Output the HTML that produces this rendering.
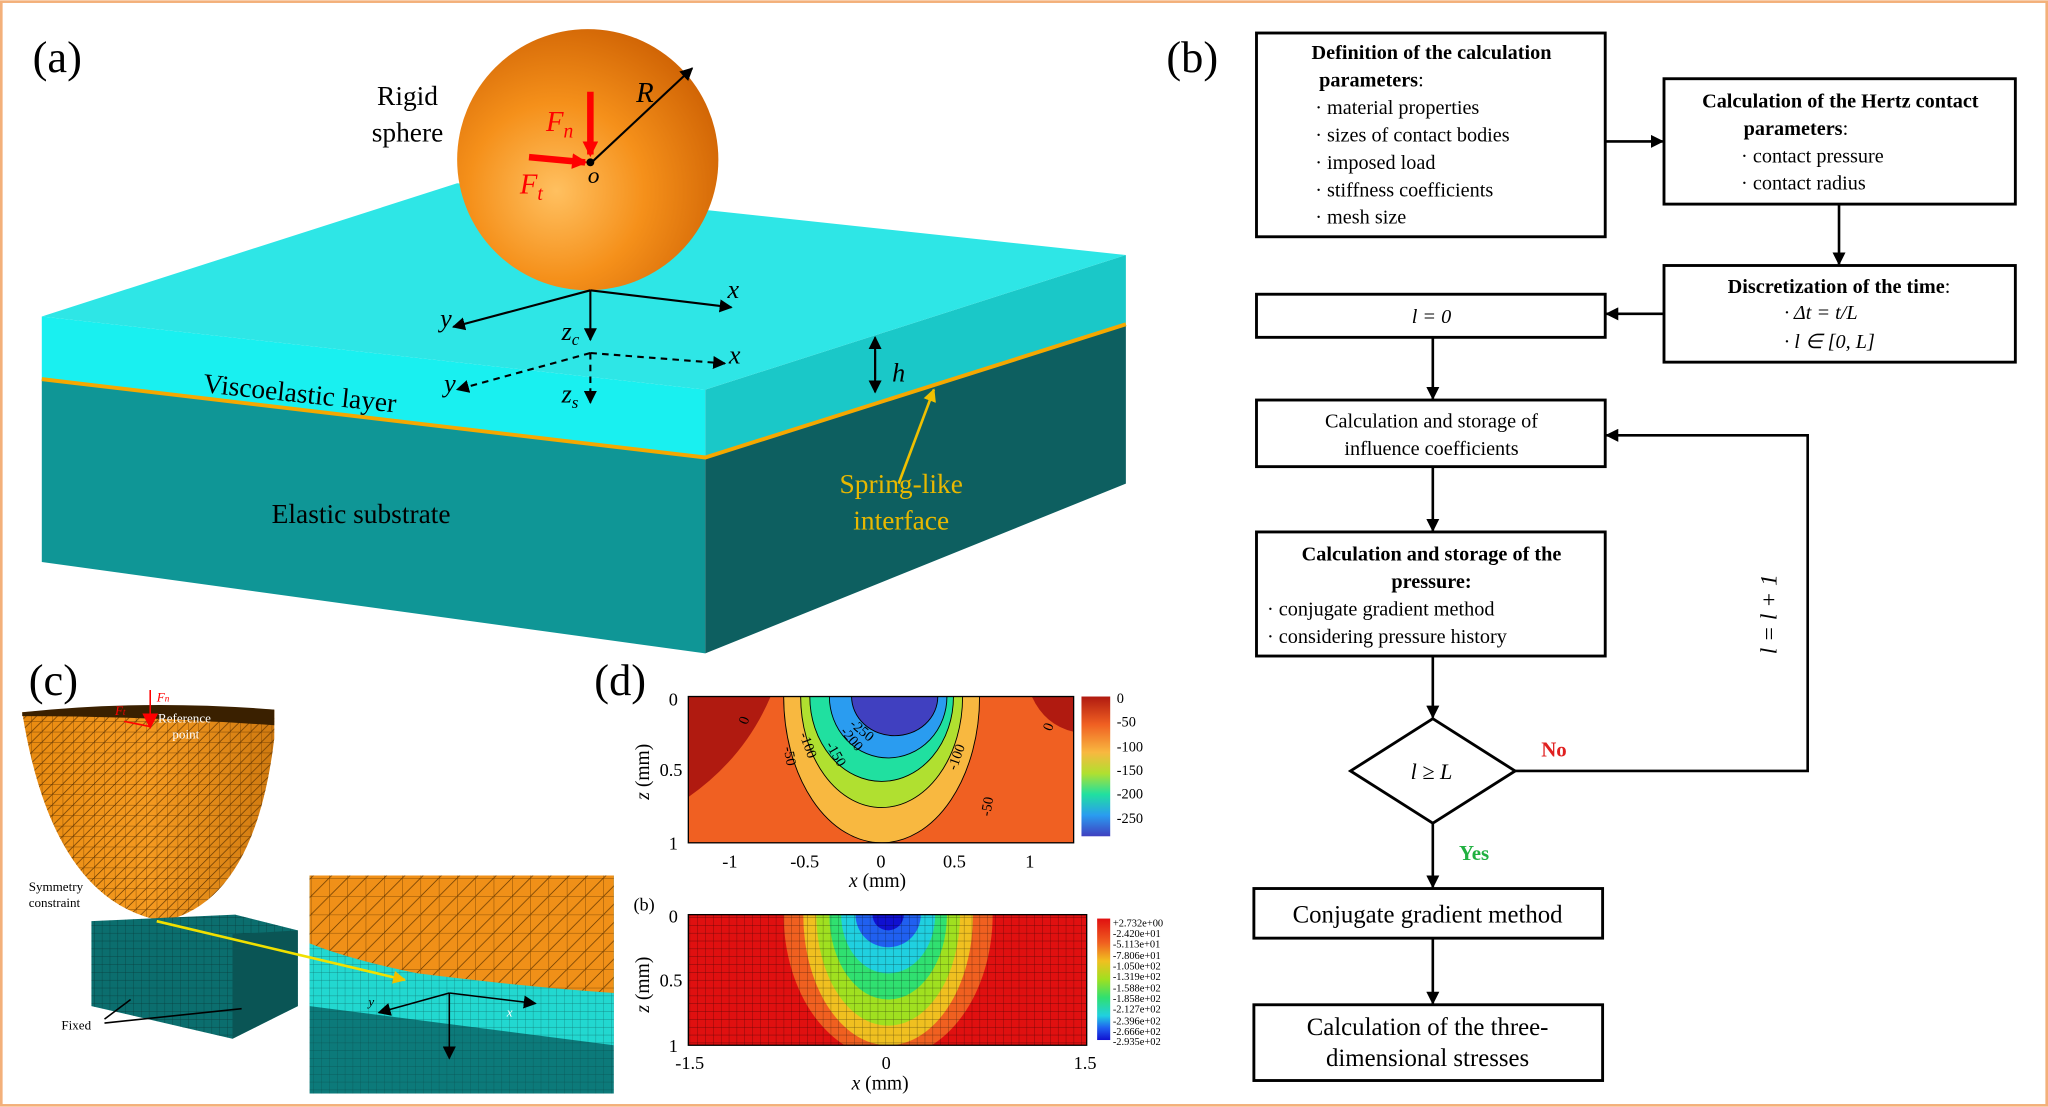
<!DOCTYPE html>
<html><head><meta charset="utf-8"><style>
html,body{margin:0;padding:0;background:#fff}
svg{display:block}
text{font-family:"Liberation Serif",serif}
</style></head><body>
<svg width="2048" height="1107" viewBox="0 0 1568 847" xmlns="http://www.w3.org/2000/svg">
<defs>
<radialGradient id="sph" cx="0.38" cy="0.62" r="0.75">
<stop offset="0" stop-color="#ffc060"/><stop offset="0.45" stop-color="#f5901a"/><stop offset="1" stop-color="#c85a00"/>
</radialGradient>
<linearGradient id="hemi" x1="0" y1="0" x2="1" y2="0">
<stop offset="0" stop-color="#e88a10"/><stop offset="0.5" stop-color="#f59a20"/><stop offset="1" stop-color="#d07a10"/>
</linearGradient>
<pattern id="mesh" width="8" height="8" patternUnits="userSpaceOnUse">
<path d="M0 0H8M0 0V8M0 8L8 0" stroke="#5a3000" stroke-width="0.5" fill="none"/>
</pattern>
<pattern id="mesh2" width="14" height="14" patternUnits="userSpaceOnUse">
<path d="M0 0H14M0 0V14M0 14L14 0" stroke="#6a3a00" stroke-width="0.6" fill="none"/>
</pattern>
<pattern id="tmesh" width="6" height="6" patternUnits="userSpaceOnUse">
<path d="M0 0H6M0 0V6" stroke="#083a3a" stroke-width="0.5" fill="none"/>
</pattern>
<pattern id="grid" width="6" height="6" patternUnits="userSpaceOnUse">
<path d="M0 0H6M0 0V6" stroke="#000" stroke-width="0.5" fill="none" opacity="0.6"/>
</pattern>
<marker id="ah" markerWidth="10" markerHeight="10" refX="9" refY="5" orient="auto" markerUnits="userSpaceOnUse">
<path d="M0 0L10 5L0 10z" fill="#000"/></marker>
<marker id="ahr" markerWidth="12" markerHeight="12" refX="10" refY="6" orient="auto" markerUnits="userSpaceOnUse">
<path d="M0 0L12 6L0 12z" fill="#f00"/></marker>
<marker id="ahy" markerWidth="10" markerHeight="10" refX="9" refY="5" orient="auto" markerUnits="userSpaceOnUse">
<path d="M0 0L10 5L0 10z" fill="#f0c000"/></marker>
<clipPath id="c1"><rect x="527" y="533" width="295" height="112"/></clipPath>
<clipPath id="c2"><rect x="527" y="700" width="305" height="100"/></clipPath>
<clipPath id="c3"><rect x="237" y="670" width="233" height="167"/></clipPath>
</defs>
<rect x="1" y="1" width="1566" height="845" fill="#fff" stroke="#f3b07a" stroke-width="2"/>

<!-- (a) -->
<text x="25" y="55" font-size="34">(a)</text>
<polygon points="32,290 540,350 540,500 32,430" fill="#0f9696"/>
<polygon points="540,350 862,248 862,370 540,500" fill="#0d5f60"/>
<polygon points="32,242 540,298 540,350 32,290" fill="#19f0f0"/>
<polygon points="540,298 862,195 862,248 540,350" fill="#1ac8c8"/>
<polygon points="32,242 350,140 862,195 540,298" fill="#2ee6e6"/>
<polyline points="32,290 540,350 862,248" fill="none" stroke="#f5a800" stroke-width="3"/>
<circle cx="450" cy="122" r="100" fill="url(#sph)"/>
<g stroke="#000" stroke-width="1.6" fill="none">
<line x1="452" y1="222" x2="560" y2="235" marker-end="url(#ah)"/>
<line x1="452" y1="222" x2="347" y2="250" marker-end="url(#ah)"/>
<line x1="452" y1="222" x2="452" y2="260" marker-end="url(#ah)"/>
<g stroke-dasharray="5,4">
<line x1="452" y1="270" x2="555" y2="278" marker-end="url(#ah)"/>
<line x1="452" y1="270" x2="350" y2="298" marker-end="url(#ah)"/>
<line x1="452" y1="270" x2="452" y2="308" marker-end="url(#ah)"/>
</g>
<line x1="670" y1="268" x2="670" y2="300" marker-end="url(#ah)"/>
<line x1="670" y1="290" x2="670" y2="258" marker-end="url(#ah)"/>
<line x1="453" y1="124" x2="530" y2="52" marker-end="url(#ah)"/>
</g>
<line x1="688" y1="370" x2="715" y2="298" stroke="#f0c000" stroke-width="2" marker-end="url(#ahy)"/>
<line x1="452" y1="70" x2="452" y2="118" stroke="#f00" stroke-width="5" marker-end="url(#ahr)"/>
<line x1="405" y1="120" x2="448" y2="124" stroke="#f00" stroke-width="5" marker-end="url(#ahr)"/>
<circle cx="452" cy="124" r="3" fill="#000"/>
<g font-style="italic" font-size="22">
<text x="418" y="100" fill="#f00">F<tspan font-size="15" dy="5">n</tspan></text>
<text x="398" y="148" fill="#f00">F<tspan font-size="15" dy="5">t</tspan></text>
<text x="450" y="140" font-size="18">o</text>
<text x="487" y="78">R</text>
<text x="557" y="228" font-size="20">x</text>
<text x="337" y="250" font-size="20">y</text>
<text x="430" y="260" font-size="20">z<tspan font-size="13" dy="4">c</tspan></text>
<text x="558" y="278" font-size="20">x</text>
<text x="340" y="300" font-size="20">y</text>
<text x="430" y="308" font-size="20">z<tspan font-size="13" dy="4">s</tspan></text>
<text x="683" y="292" font-size="20">h</text>
</g>
<text x="312" y="80" font-size="21" text-anchor="middle">Rigid</text>
<text x="312" y="108" font-size="21" text-anchor="middle">sphere</text>
<text x="155" y="300" font-size="21" transform="rotate(6 155 300)">Viscoelastic layer</text>
<text x="208" y="400" font-size="21">Elastic substrate</text>
<text x="690" y="377" font-size="21" fill="#e8b800" text-anchor="middle">Spring-like</text>
<text x="690" y="405" font-size="21" fill="#e8b800" text-anchor="middle">interface</text>

<!-- (b) flowchart -->
<text x="893" y="55" font-size="34">(b)</text>
<g fill="#fff" stroke="#000" stroke-width="2.2">
<rect x="962" y="25" width="267" height="156"/>
<rect x="1274" y="60" width="269" height="96"/>
<rect x="1274" y="203" width="269" height="74"/>
<rect x="962" y="225" width="267" height="33"/>
<rect x="962" y="306" width="267" height="51"/>
<rect x="962" y="407" width="267" height="95"/>
<polygon points="1097,550 1160,590 1097,630 1034,590"/>
<rect x="960" y="680" width="267" height="38"/>
<rect x="960" y="769" width="267" height="58"/>
</g>
<g stroke="#000" stroke-width="2" fill="none">
<line x1="1229" y1="108" x2="1273" y2="108" marker-end="url(#ah)"/>
<line x1="1408" y1="156" x2="1408" y2="202" marker-end="url(#ah)"/>
<line x1="1274" y1="240" x2="1230" y2="240" marker-end="url(#ah)"/>
<line x1="1097" y1="258" x2="1097" y2="305" marker-end="url(#ah)"/>
<line x1="1097" y1="357" x2="1097" y2="406" marker-end="url(#ah)"/>
<line x1="1097" y1="502" x2="1097" y2="549" marker-end="url(#ah)"/>
<line x1="1097" y1="630" x2="1097" y2="679" marker-end="url(#ah)"/>
<line x1="1097" y1="718" x2="1097" y2="768" marker-end="url(#ah)"/>
<polyline points="1160,590 1384,590 1384,333 1230,333" marker-end="url(#ah)"/>
</g>
<g font-size="15.5">
<text x="1096" y="45" text-anchor="middle" font-weight="bold">Definition of the calculation</text>
<text x="1010" y="66" font-weight="bold">parameters<tspan font-weight="normal">:</tspan></text>
<text x="1007" y="87">· material properties</text>
<text x="1007" y="108">· sizes of contact bodies</text>
<text x="1007" y="129">· imposed load</text>
<text x="1007" y="150">· stiffness coefficients</text>
<text x="1007" y="171">· mesh size</text>
<text x="1409" y="82" text-anchor="middle" font-weight="bold">Calculation of the Hertz contact</text>
<text x="1335" y="103" font-weight="bold">parameters<tspan font-weight="normal">:</tspan></text>
<text x="1333" y="124">· contact pressure</text>
<text x="1333" y="145">· contact radius</text>
<text x="1408" y="224" text-anchor="middle" font-weight="bold">Discretization of the  time<tspan font-weight="normal">:</tspan></text>
<text x="1366" y="244" font-style="italic">· Δt = t/L</text>
<text x="1366" y="266" font-style="italic">· l ∈ [0, L]</text>
<text x="1096" y="247" text-anchor="middle" font-style="italic">l = 0</text>
<text x="1096" y="327" text-anchor="middle">Calculation and storage of</text>
<text x="1096" y="348" text-anchor="middle">influence  coefficients</text>
<text x="1096" y="429" text-anchor="middle" font-weight="bold">Calculation and storage of the</text>
<text x="1096" y="450" text-anchor="middle" font-weight="bold">pressure:</text>
<text x="970" y="471">· conjugate gradient method</text>
<text x="970" y="492">· considering pressure history</text>
<text x="1096" y="596" text-anchor="middle" font-style="italic" font-size="17">l ≥ L</text>
<text x="1180" y="579" font-weight="bold" fill="#e02020" font-size="16">No</text>
<text x="1117" y="658" font-weight="bold" fill="#20b040" font-size="16">Yes</text>
<text x="1093" y="706" text-anchor="middle" font-size="19">Conjugate gradient method</text>
<text x="1093" y="792" text-anchor="middle" font-size="19">Calculation of the three-</text>
<text x="1093" y="816" text-anchor="middle" font-size="19">dimensional stresses</text>
<text x="1360" y="470" font-style="italic" font-size="18" transform="rotate(-90 1360 470)" text-anchor="middle">l = l + 1</text>
</g>

<!-- (c) -->
<text x="22" y="532" font-size="34">(c)</text>
<path d="M17,545 Q110,538 210,543 L210,565 Q195,690 125,705 Q40,690 17,545z" fill="url(#hemi)"/>
<path d="M17,545 Q110,538 210,543 L210,565 Q195,690 125,705 Q40,690 17,545z" fill="url(#mesh)"/>
<path d="M17,545 Q110,535 210,543 L210,555 Q110,548 17,548z" fill="#3a2000"/>
<polygon points="70,705 180,700 228,712 228,770 178,795 70,770" fill="#0b6e6e"/>
<polygon points="70,705 180,700 228,712 228,770 178,795 70,770" fill="url(#tmesh)"/>
<polygon points="178,715 228,712 228,770 178,795" fill="#0a5555"/>
<g clip-path="url(#c3)">
<rect x="237" y="670" width="233" height="167" fill="#0c7a7a"/>
<polygon points="237,700 470,745 470,800 237,770" fill="#22d8d0"/>
<rect x="237" y="670" width="233" height="167" fill="url(#tmesh)" opacity="0.6"/>
<path d="M237,670 H470 V760 Q400,755 320,745 Q270,735 237,722z" fill="#f09018"/>
<path d="M237,670 H470 V760 Q400,755 320,745 Q270,735 237,722z" fill="url(#mesh2)"/>
</g>
<line x1="120" y1="705" x2="310" y2="750" stroke="#f0e000" stroke-width="2" marker-end="url(#ahy)"/>
<g stroke="#000" stroke-width="1.2">
<line x1="344" y1="760" x2="410" y2="768" marker-end="url(#ah)"/>
<line x1="344" y1="760" x2="290" y2="775" marker-end="url(#ah)"/>
<line x1="344" y1="760" x2="344" y2="810" marker-end="url(#ah)"/>
<line x1="80" y1="780" x2="100" y2="765"/>
<line x1="80" y1="783" x2="185" y2="772"/>
</g>
<line x1="115" y1="528" x2="115" y2="556" stroke="#f00" stroke-width="1.2" marker-end="url(#ahr)"/>
<line x1="95" y1="552" x2="115" y2="556" stroke="#f00" stroke-width="1.2"/>
<g font-size="10">
<text x="120" y="537" fill="#f00" font-style="italic">F<tspan font-size="7">n</tspan></text>
<text x="88" y="547" fill="#f00" font-style="italic">F<tspan font-size="7">t</tspan></text>
<text x="121" y="553" fill="#fff">Reference</text>
<text x="132" y="565" fill="#fff">point</text>
<text x="22" y="682">Symmetry</text>
<text x="22" y="694">constraint</text>
<text x="47" y="788">Fixed</text>
<text x="282" y="770" font-style="italic" fill="#000">y</text>
<text x="388" y="778" font-style="italic" fill="#fff">x</text>
</g>

<!-- (d) -->
<text x="455" y="532" font-size="34">(d)</text>
<g clip-path="url(#c1)">
<rect x="527" y="533" width="295" height="112" fill="#f06022"/>
<path d="M527,533 H590 Q570,580 527,610z" fill="#b01a10"/>
<path d="M790,533 H822 V560 Q800,555 790,533z" fill="#b01a10"/>
<ellipse cx="675" cy="533" rx="75" ry="112" fill="#f8b840" stroke="#000" stroke-width="0.7"/>
<ellipse cx="675" cy="533" rx="62" ry="85" fill="#b0e030" stroke="#000" stroke-width="0.7"/>
<ellipse cx="675" cy="533" rx="55" ry="65" fill="#20e0a0" stroke="#000" stroke-width="0.7"/>
<ellipse cx="680" cy="533" rx="45" ry="47" fill="#2a9cf0" stroke="#000" stroke-width="0.7"/>
<ellipse cx="685" cy="533" rx="33" ry="30" fill="#4040c0" stroke="#000" stroke-width="0.7"/>
</g>
<rect x="527" y="533" width="295" height="112" fill="none" stroke="#000" stroke-width="1"/>
<linearGradient id="cb1" x1="0" y1="0" x2="0" y2="1">
<stop offset="0" stop-color="#b01a10"/><stop offset="0.2" stop-color="#f06022"/><stop offset="0.4" stop-color="#f8b840"/><stop offset="0.55" stop-color="#b0e030"/><stop offset="0.7" stop-color="#20e0a0"/><stop offset="0.85" stop-color="#2a9cf0"/><stop offset="1" stop-color="#4040c0"/></linearGradient>
<rect x="828" y="533" width="22" height="107" fill="url(#cb1)"/>
<g font-size="11" font-family="Liberation Sans,sans-serif">
<text x="855" y="538">0</text><text x="855" y="556">-50</text><text x="855" y="575">-100</text><text x="855" y="593">-150</text><text x="855" y="611">-200</text><text x="855" y="630">-250</text>
<text x="572" y="555" transform="rotate(-70 572 555)">0</text>
<text x="600" y="572" transform="rotate(80 600 572)">-50</text>
<text x="612" y="562" transform="rotate(70 612 562)">-100</text>
<text x="632" y="570" transform="rotate(60 632 570)">-150</text>
<text x="643" y="560" transform="rotate(50 643 560)">-200</text>
<text x="650" y="555" transform="rotate(40 650 555)">-250</text>
<text x="732" y="590" transform="rotate(-70 732 590)">-100</text>
<text x="758" y="625" transform="rotate(-80 758 625)">-50</text>
<text x="805" y="560" transform="rotate(-70 805 560)">0</text>
</g>
<g font-size="14">
<text x="512" y="540">0</text><text x="505" y="594">0.5</text><text x="512" y="650">1</text>
<text x="553" y="664">-1</text><text x="605" y="664">-0.5</text><text x="671" y="664">0</text><text x="722" y="664">0.5</text><text x="785" y="664">1</text>
<text x="650" y="679" font-size="15"><tspan font-style="italic">x</tspan> (mm)</text>
<text x="497" y="612" font-size="15" transform="rotate(-90 497 612)"><tspan font-style="italic">z</tspan> (mm)</text>
<text x="485" y="697">(b)</text>
</g>
<g clip-path="url(#c2)">
<rect x="527" y="700" width="305" height="100" fill="#e01010"/>
<ellipse cx="680" cy="700" rx="80" ry="110" fill="#f06020"/>
<ellipse cx="680" cy="700" rx="65" ry="100" fill="#f0c020"/>
<ellipse cx="680" cy="700" rx="55" ry="85" fill="#a0e020"/>
<ellipse cx="680" cy="700" rx="45" ry="65" fill="#30e070"/>
<ellipse cx="680" cy="700" rx="36" ry="45" fill="#20d0e0"/>
<ellipse cx="680" cy="700" rx="25" ry="25" fill="#2060f0"/>
<ellipse cx="680" cy="700" rx="12" ry="12" fill="#1010d0"/>
<rect x="527" y="700" width="305" height="100" fill="url(#grid)"/>
</g>
<rect x="527" y="700" width="305" height="100" fill="none" stroke="#000"/>
<linearGradient id="cb2" x1="0" y1="0" x2="0" y2="1">
<stop offset="0" stop-color="#e01010"/><stop offset="0.2" stop-color="#f06020"/><stop offset="0.35" stop-color="#f0c020"/><stop offset="0.5" stop-color="#a0e020"/><stop offset="0.65" stop-color="#30e070"/><stop offset="0.8" stop-color="#20d0e0"/><stop offset="0.9" stop-color="#2060f0"/><stop offset="1" stop-color="#1010d0"/></linearGradient>
<rect x="840" y="703" width="10" height="93" fill="url(#cb2)"/>
<g font-size="8" font-family="Liberation Sans,sans-serif">
<text x="852" y="709">+2.732e+00</text><text x="852" y="717">-2.420e+01</text><text x="852" y="725">-5.113e+01</text><text x="852" y="734">-7.806e+01</text><text x="852" y="742">-1.050e+02</text><text x="852" y="750">-1.319e+02</text><text x="852" y="759">-1.588e+02</text><text x="852" y="767">-1.858e+02</text><text x="852" y="775">-2.127e+02</text><text x="852" y="784">-2.396e+02</text><text x="852" y="792">-2.666e+02</text><text x="852" y="800">-2.935e+02</text>
</g>
<g font-size="14">
<text x="512" y="706">0</text><text x="505" y="755">0.5</text><text x="512" y="805">1</text>
<text x="517" y="818">-1.5</text><text x="675" y="818">0</text><text x="822" y="818">1.5</text>
<text x="652" y="834" font-size="15"><tspan font-style="italic">x</tspan> (mm)</text>
<text x="497" y="775" font-size="15" transform="rotate(-90 497 775)"><tspan font-style="italic">z</tspan> (mm)</text>
</g>
</svg>
</body></html>
